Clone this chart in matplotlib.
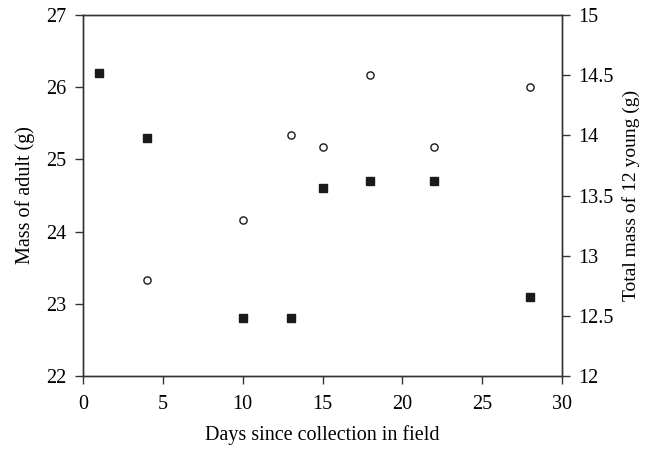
import matplotlib
matplotlib.use('Agg')
import matplotlib.pyplot as plt

# 数据
days_adult = [1, 4, 10, 13, 15, 18, 22, 28]
mass_adult = [26.2, 25.3, 22.8, 22.8, 24.6, 24.7, 24.7, 23.1]
days_young = [4, 10, 13, 15, 18, 22, 28]
mass_young = [12.8, 13.3, 14.0, 13.9, 14.5, 13.9, 14.4]

plt.rcParams['font.family'] = ['Liberation Serif', 'DejaVu Serif']
plt.rcParams['font.size'] = 14.5

fig = plt.figure(figsize=(6.45, 4.51), dpi=100)
ax = fig.add_axes([0.1287, 0.1663, 0.7426, 0.8004])
ax2 = ax.twinx()

ax.plot(days_adult, mass_adult, linestyle='none', marker='s', markersize=5.8,
        color='#1a1a1a')
ax2.plot(days_young, mass_young, linestyle='none', marker='o', markersize=5.2,
         markerfacecolor='white', markeredgecolor='#1a1a1a', markeredgewidth=1.0)

ax.set_xlim(0, 30)
ax.set_ylim(22, 27)
ax2.set_ylim(12, 15)
ax.set_xticks(range(0, 31, 5))
ax.set_yticks(range(22, 28))
ax2.set_yticks([12, 12.5, 13, 13.5, 14, 14.5, 15])
ax2.set_yticklabels(['12', '12.5', '13', '13.5', '14', '14.5', '15'])

for a in (ax, ax2):
    for s in a.spines.values():
        s.set_linewidth(1.0)
        s.set_color('#333333')
    a.tick_params(direction='out', length=6, width=1.0, color='#333333', pad=6)
ax.tick_params(axis='x', pad=8)

ax.set_xlabel('Days since collection in field', labelpad=8)
ax.set_ylabel('Mass of adult (g)', labelpad=8)
ax2.set_ylabel('Total mass of 12 young (g)', labelpad=6, fontsize=14)

plt.savefig('out.png', dpi=100)
plt.close()
